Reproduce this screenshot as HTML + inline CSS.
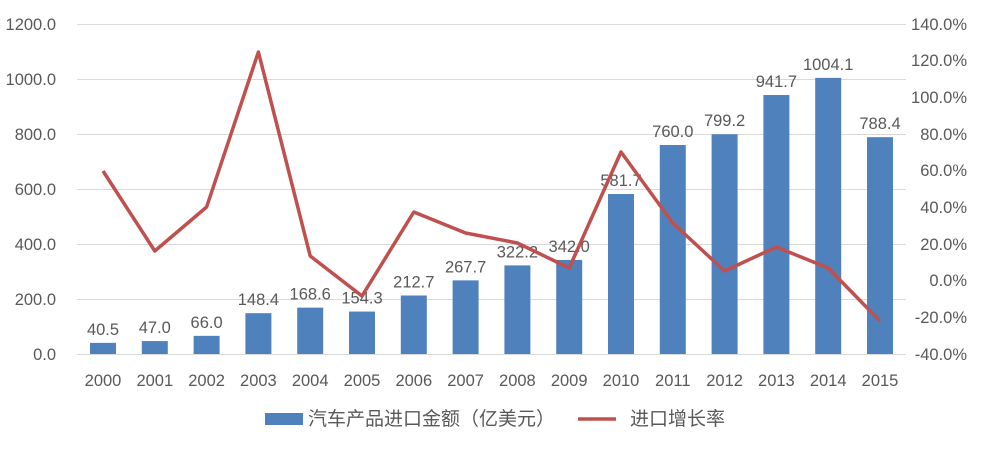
<!DOCTYPE html>
<html><head><meta charset="utf-8"><style>
html,body{margin:0;padding:0;background:#fff;}
svg text{font-family:"Liberation Sans","Noto Sans CJK SC",sans-serif;fill:#595959;}
</style></head><body>
<svg width="982" height="451" viewBox="0 0 982 451" xmlns="http://www.w3.org/2000/svg">
<g stroke="#d9d9d9" stroke-width="1">
<line x1="77" y1="24.5" x2="906" y2="24.5"/>
<line x1="77" y1="79.5" x2="906" y2="79.5"/>
<line x1="77" y1="134.5" x2="906" y2="134.5"/>
<line x1="77" y1="189.5" x2="906" y2="189.5"/>
<line x1="77" y1="244.5" x2="906" y2="244.5"/>
<line x1="77" y1="299.5" x2="906" y2="299.5"/>
<line x1="77" y1="354.5" x2="906" y2="354.5"/>
</g>
<g font-size="16.5" text-anchor="end">
<text x="56" y="30">1200.0</text><text x="56" y="85">1000.0</text><text x="56" y="140">800.0</text>
<text x="56" y="195">600.0</text><text x="56" y="250">400.0</text><text x="56" y="305">200.0</text><text x="56" y="360">0.0</text>
</g>
<g font-size="16.5" text-anchor="end">
<text x="967" y="30">140.0%</text><text x="967" y="66">120.0%</text><text x="967" y="103">100.0%</text>
<text x="967" y="140">80.0%</text><text x="967" y="176">60.0%</text><text x="967" y="213">40.0%</text>
<text x="967" y="250">20.0%</text><text x="967" y="286">0.0%</text><text x="967" y="323">-20.0%</text><text x="967" y="360">-40.0%</text>
</g>
<g fill="#4f81bd" id="bars"></g>
<g font-size="16.5" text-anchor="middle" id="labels"></g>
<polyline id="line" fill="none" stroke="#c0504d" stroke-width="3.5" stroke-linejoin="round"/>
<rect x="265" y="413" width="38" height="12" fill="#4f81bd"/>
<text x="308" y="425" font-size="19">汽车产品进口金额（亿美元）</text>
<line x1="578" y1="419" x2="616" y2="419" stroke="#c0504d" stroke-width="3.5"/>
<text x="630" y="425" font-size="19">进口增长率</text>
<script>
var v=[40.5,47.0,66.0,148.4,168.6,154.3,212.7,267.7,322.2,342.0,581.7,760.0,799.2,941.7,1004.1,788.4];
var ly=[171,251,207,52,256,296,212,233,243,268,152,223,271,247,268,321];
var ns="http://www.w3.org/2000/svg",b=document.getElementById('bars'),l=document.getElementById('labels'),pts=[];
for(var i=0;i<16;i++){var cx=103+51.8*i,h=v[i]*0.275,y=354-h;
var r=document.createElementNS(ns,'rect');r.setAttribute('x',cx-13);r.setAttribute('y',y);r.setAttribute('width',26);r.setAttribute('height',h);b.appendChild(r);
var t=document.createElementNS(ns,'text');t.setAttribute('x',cx);t.setAttribute('y',y-8);t.textContent=v[i].toFixed(1);l.appendChild(t);
var t2=document.createElementNS(ns,'text');t2.setAttribute('x',cx);t2.setAttribute('y',386);t2.textContent=2000+i;l.appendChild(t2);
pts.push(cx+','+ly[i]);}
document.getElementById('line').setAttribute('points',pts.join(' '));
</script>
</svg>
</body></html>
